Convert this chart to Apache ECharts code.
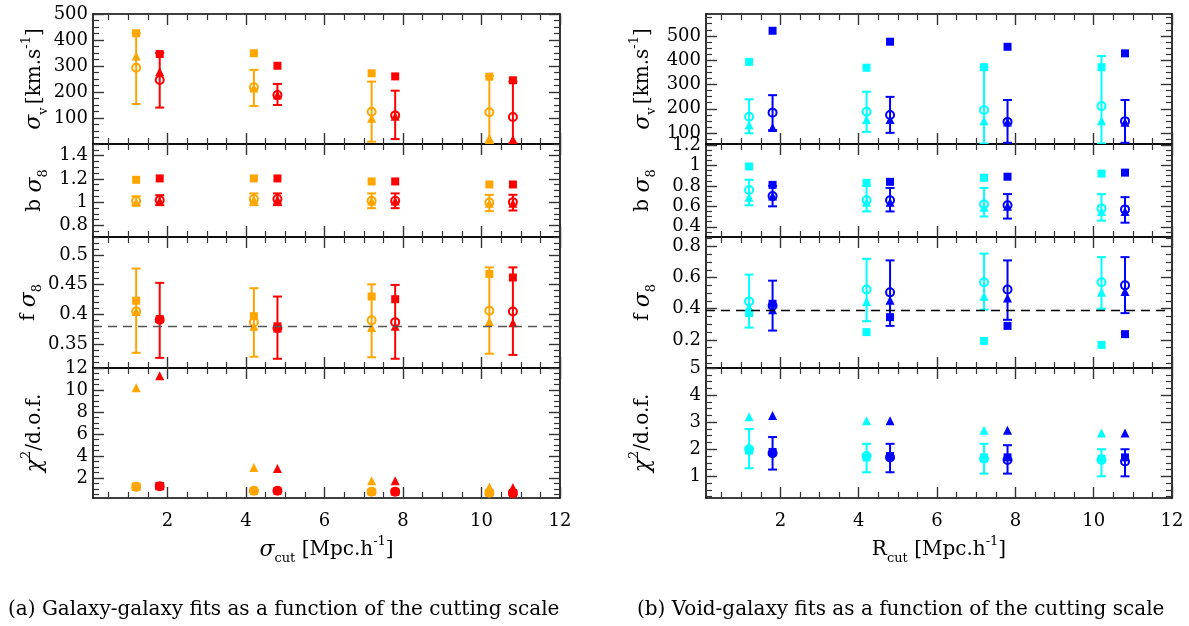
<!DOCTYPE html>
<html><head><meta charset="utf-8">
<script src="https://cdn.jsdelivr.net/npm/echarts@6/dist/echarts.min.js"></script>
<style>html,body{margin:0;padding:0;background:#fff}#c{width:1189px;height:626px}</style>
</head><body><div id="c"></div>
<script>
// ---------- x positions ----------
const xA = [1.2, 4.2, 7.2, 10.2];   // orange / cyan
const xB = [1.8, 4.8, 7.8, 10.8];   // red / blue
const X_TICKS = [2, 4, 6, 8, 10, 12];
const X_RANGE = [0.1, 12];

// ---------- tick labels / ranges ----------
const ggSvTicks = [100, 200, 300, 400, 500];
const ggBsTicks = [0.8, 1, 1.2, 1.4];
const ggFsTicks = [0.35, 0.4, 0.45, 0.5];
const ggChTicks = [2, 4, 6, 8, 10, 12];
const vgSvTicks = [100, 200, 300, 400, 500];
const vgBsTicks = [0.4, 0.6, 0.8, 1, 1.2];
const vgFsTicks = [0.2, 0.4, 0.6, 0.8];
const vgChTicks = [1, 2, 3, 4, 5];

const ggFsRef = 0.378;
const vgFsRef = 0.387;

// ---------- Galaxy-galaxy (orange = A, red = B) ----------
// sigma_v
const ggSvA_sq = [426, 349, 272, 259];
const ggSvA_tri = [338, 215, 99, 22];
const ggSvA_c = [293, 218, 124, 122];
const ggSvA_lo = [154, 146, 9, 2];
const ggSvA_hi = [426, 285, 240, 262];
const ggSvB_sq = [346, 301, 260, 245];
const ggSvB_tri = [278, 188, 107, 18];
const ggSvB_c = [246, 188, 110, 104];
const ggSvB_lo = [140, 150, 19, 2];
const ggSvB_hi = [350, 231, 205, 240];
// b sigma8
const ggBsA_sq = [1.192, 1.204, 1.178, 1.152];
const ggBsA_tri = [1.0, 1.02, 1.01, 0.99];
const ggBsA_c = [1.011, 1.026, 1.011, 0.997];
const ggBsA_lo = [0.974, 0.974, 0.948, 0.922];
const ggBsA_hi = [1.05, 1.075, 1.075, 1.063];
const ggBsB_sq = [1.204, 1.204, 1.178, 1.152];
const ggBsB_tri = [1.01, 1.02, 1.01, 0.99];
const ggBsB_c = [1.017, 1.026, 1.011, 1.0];
const ggBsB_lo = [0.974, 0.974, 0.948, 0.928];
const ggBsB_hi = [1.06, 1.075, 1.075, 1.063];
// f sigma8
const ggFsA_sq = [0.423, 0.397, 0.43, 0.468];
const ggFsA_tri = [0.405, 0.38, 0.378, 0.388];
const ggFsA_c = [0.405, 0.387, 0.39, 0.406];
const ggFsA_lo = [0.3355, 0.329, 0.328, 0.334];
const ggFsA_hi = [0.477, 0.444, 0.4505, 0.479];
const ggFsB_sq = [0.392, 0.38, 0.4255, 0.462];
const ggFsB_tri = [0.393, 0.377, 0.38, 0.386];
const ggFsB_c = [0.391, 0.377, 0.387, 0.405];
const ggFsB_lo = [0.327, 0.3255, 0.3255, 0.332];
const ggFsB_hi = [0.453, 0.43, 0.4495, 0.479];
// chi2 / dof
const ggChA_sq = [1.21, 0.85, 0.76, 0.67];
const ggChA_tri = [10.2, 2.97, 1.76, 1.2];
const ggChA_c = [1.21, 0.85, 0.76, 0.67];
const ggChA_lo = [0.95, 0.75, 0.6, 0.5];
const ggChA_hi = [1.5, 0.95, 0.9, 0.85];
const ggChB_sq = [1.27, 0.85, 0.76, 0.64];
const ggChB_tri = [11.3, 2.88, 1.76, 1.15];
const ggChB_c = [1.27, 0.85, 0.76, 0.64];
const ggChB_lo = [1.0, 0.75, 0.6, 0.5];
const ggChB_hi = [1.55, 0.95, 0.9, 0.85];

// ---------- Void-galaxy (cyan = A, blue = B) ----------
const vgSvA_sq = [393, 369, 371, 371];
const vgSvA_tri = [133, 156, 151, 151];
const vgSvA_c = [167, 188, 195, 211];
const vgSvA_lo = [99, 105, 57, 57];
const vgSvA_hi = [239, 270, 371, 417];
const vgSvB_sq = [521, 476, 455, 428];
const vgSvB_tri = [123, 156, 146, 145];
const vgSvB_c = [184, 174, 146, 149];
const vgSvB_lo = [112, 101, 60, 60];
const vgSvB_hi = [256, 249, 236, 236];

const vgBsA_sq = [0.99, 0.83, 0.88, 0.92];
const vgBsA_tri = [0.69, 0.64, 0.59, 0.55];
const vgBsA_c = [0.76, 0.66, 0.62, 0.58];
const vgBsA_lo = [0.61, 0.55, 0.50, 0.46];
const vgBsA_hi = [0.86, 0.80, 0.78, 0.72];
const vgBsB_sq = [0.81, 0.84, 0.89, 0.93];
const vgBsB_tri = [0.70, 0.64, 0.60, 0.55];
const vgBsB_c = [0.70, 0.66, 0.61, 0.57];
const vgBsB_lo = [0.60, 0.55, 0.48, 0.44];
const vgBsB_hi = [0.80, 0.78, 0.72, 0.69];

const vgFsA_sq = [0.372, 0.25, 0.194, 0.168];
const vgFsA_tri = [0.41, 0.447, 0.48, 0.505];
const vgFsA_c = [0.447, 0.523, 0.57, 0.57];
const vgFsA_lo = [0.279, 0.32, 0.394, 0.4];
const vgFsA_hi = [0.619, 0.72, 0.753, 0.731];
const vgFsB_sq = [0.432, 0.346, 0.29, 0.237];
const vgFsB_tri = [0.394, 0.454, 0.469, 0.51];
const vgFsB_c = [0.419, 0.505, 0.523, 0.55];
const vgFsB_lo = [0.26, 0.29, 0.329, 0.372];
const vgFsB_hi = [0.58, 0.71, 0.71, 0.731];

const vgChA_sq = [1.95, 1.7, 1.7, 1.65];
const vgChA_tri = [3.2, 3.05, 2.7, 2.6];
const vgChA_c = [2.0, 1.75, 1.65, 1.6];
const vgChA_lo = [1.3, 1.15, 1.1, 1.0];
const vgChA_hi = [2.75, 2.2, 2.2, 2.0];
const vgChB_sq = [1.9, 1.75, 1.7, 1.7];
const vgChB_tri = [3.25, 3.05, 2.7, 2.6];
const vgChB_c = [1.85, 1.7, 1.6, 1.55];
const vgChB_lo = [1.25, 1.15, 1.1, 1.0];
const vgChB_hi = [2.45, 2.2, 2.15, 2.0];

// ---------- colours ----------
const C_ORANGE = '#FFA500', C_RED = '#FF0000', C_CYAN = '#00FFFF', C_BLUE = '#0000FF';

// ---------- layout ----------
const FONT = 'DejaVu Serif';
const SIDE_LEFT = [93, 706];
const SIDE_W = [467, 466];
const ROW_TOP = [14, 144, 237, 368];
const ROW_H = [130, 93, 131, 130];

const rich = {
  n: {fontSize: 20, fontFamily: FONT, color: '#000', lineHeight: 30, verticalAlign: 'middle'},
  g: {fontSize: 22, fontFamily: FONT, fontStyle: 'italic', color: '#000', lineHeight: 30, verticalAlign: 'middle'},
  s: {fontSize: 13, fontFamily: FONT, color: '#000', lineHeight: 30, verticalAlign: 'bottom'},
  p: {fontSize: 13, fontFamily: FONT, color: '#000', lineHeight: 30, verticalAlign: 'top'}
};

const panels = [
  {side: 0, row: 0, yr: [0, 500], ticks: ggSvTicks, minor: 25, name: '{g|σ}{s|v} {n|[km.s}{p|-1}{n|]}',
   A: [ggSvA_sq, ggSvA_tri, ggSvA_c, ggSvA_lo, ggSvA_hi], B: [ggSvB_sq, ggSvB_tri, ggSvB_c, ggSvB_lo, ggSvB_hi]},
  {side: 0, row: 1, yr: [0.7, 1.5], ticks: ggBsTicks, minor: 0.05, name: '{n|b }{g|σ}{s|8}',
   A: [ggBsA_sq, ggBsA_tri, ggBsA_c, ggBsA_lo, ggBsA_hi], B: [ggBsB_sq, ggBsB_tri, ggBsB_c, ggBsB_lo, ggBsB_hi]},
  {side: 0, row: 2, yr: [0.31, 0.53], ticks: ggFsTicks, minor: 0.01, name: '{n|f }{g|σ}{s|8}', ref: ggFsRef, refColor: '#555',
   A: [ggFsA_sq, ggFsA_tri, ggFsA_c, ggFsA_lo, ggFsA_hi], B: [ggFsB_sq, ggFsB_tri, ggFsB_c, ggFsB_lo, ggFsB_hi]},
  {side: 0, row: 3, yr: [0.2, 12], ticks: ggChTicks, minor: 0.5, name: '{g|χ}{p|2}{n|/d.o.f.}', xName: '{g|σ}{s|cut}{n| [Mpc.h}{p|-1}{n|]}',
   A: [ggChA_sq, ggChA_tri, ggChA_c, ggChA_lo, ggChA_hi], B: [ggChB_sq, ggChB_tri, ggChB_c, ggChB_lo, ggChB_hi]},
  {side: 1, row: 0, yr: [55, 590], ticks: vgSvTicks, minor: 25, name: '{g|σ}{s|v} {n|[km.s}{p|-1}{n|]}',
   A: [vgSvA_sq, vgSvA_tri, vgSvA_c, vgSvA_lo, vgSvA_hi], B: [vgSvB_sq, vgSvB_tri, vgSvB_c, vgSvB_lo, vgSvB_hi]},
  {side: 1, row: 1, yr: [0.3, 1.21], ticks: vgBsTicks, minor: 0.05, name: '{n|b }{g|σ}{s|8}',
   A: [vgBsA_sq, vgBsA_tri, vgBsA_c, vgBsA_lo, vgBsA_hi], B: [vgBsB_sq, vgBsB_tri, vgBsB_c, vgBsB_lo, vgBsB_hi]},
  {side: 1, row: 2, yr: [0.02, 0.86], ticks: vgFsTicks, minor: 0.05, name: '{n|f }{g|σ}{s|8}', ref: vgFsRef, refColor: '#000',
   A: [vgFsA_sq, vgFsA_tri, vgFsA_c, vgFsA_lo, vgFsA_hi], B: [vgFsB_sq, vgFsB_tri, vgFsB_c, vgFsB_lo, vgFsB_hi]},
  {side: 1, row: 3, yr: [0.2, 5], ticks: vgChTicks, minor: 0.25, name: '{g|χ}{p|2}{n|/d.o.f.}', xName: '{n|R}{s|cut}{n| [Mpc.h}{p|-1}{n|]}',
   A: [vgChA_sq, vgChA_tri, vgChA_c, vgChA_lo, vgChA_hi], B: [vgChB_sq, vgChB_tri, vgChB_c, vgChB_lo, vgChB_hi]}
];

function minorVals(r, step, majors) {
  const out = [];
  const start = Math.ceil(r[0] / step - 1e-9);
  for (let k = start; k * step <= r[1] + 1e-9; k++) {
    const v = +(k * step).toFixed(6);
    if (!majors.some(m => Math.abs(m - v) < 1e-9)) out.push(v);
  }
  return out;
}

const grids = [], xAxes = [], yAxes = [], series = [];
const lineS = {color: '#000', width: 1.6};
const tMaj = v => ({show: true, inside: true, length: 11, customValues: v, lineStyle: {color: '#333', width: 1.4}});
const tMin = v => ({show: true, inside: true, length: 6, customValues: v, lineStyle: {color: '#333', width: 1.2}});
const labelStyle = {fontFamily: FONT, fontSize: 18, color: '#000'};

function zip(xs, ys) { return xs.map((x, i) => [x, ys[i]]); }
function zip3(xs, lo, hi) { return xs.map((x, i) => [x, lo[i], hi[i]]); }

function errRender(params, api) {
  const x = api.value(0), lo = api.value(1), hi = api.value(2);
  const a = api.coord([x, hi]), b = api.coord([x, lo]);
  const w = 4.5;
  const st = {stroke: api.visual('color'), lineWidth: 2};
  return {type: 'group', children: [
    {type: 'line', shape: {x1: a[0], y1: a[1], x2: b[0], y2: b[1]}, style: st},
    {type: 'line', shape: {x1: a[0] - w, y1: a[1], x2: a[0] + w, y2: a[1]}, style: st},
    {type: 'line', shape: {x1: b[0] - w, y1: b[1], x2: b[0] + w, y2: b[1]}, style: st}
  ]};
}

panels.forEach((p, gi) => {
  grids.push({left: SIDE_LEFT[p.side], top: ROW_TOP[p.row], width: SIDE_W[p.side], height: ROW_H[p.row]});
  const isBottom = p.row === 3;
  const xMinor = minorVals(X_RANGE, 0.5, X_TICKS);
  const yMinor = minorVals(p.yr, p.minor, p.ticks);
  const xi = xAxes.length, yi = yAxes.length;
  ['bottom', 'top'].forEach(pos => {
    xAxes.push({gridIndex: gi, type: 'value', min: X_RANGE[0], max: X_RANGE[1], position: pos, offset: 0,
      axisLine: {show: true, onZero: false, lineStyle: lineS}, axisTick: tMaj(X_TICKS),
      axisLabel: {show: pos === 'bottom' && isBottom, customValues: X_TICKS, margin: 14, ...labelStyle},
      splitLine: {show: false},
      name: (pos === 'bottom' && isBottom) ? p.xName : '', nameLocation: 'middle', nameGap: 37,
      nameTextStyle: {rich: rich}});
    xAxes.push({gridIndex: gi, type: 'value', min: X_RANGE[0], max: X_RANGE[1], position: pos, offset: 0,
      axisLine: {show: false, onZero: false}, axisTick: tMin(xMinor), axisLabel: {show: false}, splitLine: {show: false}});
  });
  ['left', 'right'].forEach(pos => {
    yAxes.push({gridIndex: gi, type: 'value', min: p.yr[0], max: p.yr[1], position: pos, offset: 0,
      axisLine: {show: true, onZero: false, lineStyle: lineS}, axisTick: tMaj(p.ticks),
      axisLabel: {show: pos === 'left', customValues: p.ticks, margin: 5, ...labelStyle},
      splitLine: {show: false},
      name: pos === 'left' ? p.name : '', nameLocation: 'middle', nameRotate: 90, nameGap: p.side === 0 ? 43 : 48,
      nameTextStyle: {rich: rich}});
    yAxes.push({gridIndex: gi, type: 'value', min: p.yr[0], max: p.yr[1], position: pos, offset: 0,
      axisLine: {show: false, onZero: false}, axisTick: tMin(yMinor), axisLabel: {show: false}, splitLine: {show: false}});
  });
  const colors = p.side === 0 ? [C_ORANGE, C_RED] : [C_CYAN, C_BLUE];
  [[xA, p.A, colors[0]], [xB, p.B, colors[1]]].forEach(([xs, d, col], k) => {
    const base = {xAxisIndex: xi, yAxisIndex: yi, z: 3};
    series.push({...base, type: 'custom', renderItem: errRender, itemStyle: {color: col, opacity: 1},
      encode: {x: 0, y: [1, 2]}, data: zip3(xs, d[3], d[4]), clip: true});
    series.push({...base, type: 'scatter', symbol: 'rect', symbolSize: 8, itemStyle: {color: col, opacity: 1}, data: zip(xs, d[0])});
    series.push({...base, type: 'scatter', symbol: 'triangle', symbolSize: 9, itemStyle: {color: col, opacity: 1}, data: zip(xs, d[1])});
    const circ = {...base, type: 'scatter', symbol: 'circle', symbolSize: 8,
      itemStyle: {color: 'rgba(255,255,255,0)', borderColor: col, borderWidth: 2, opacity: 1}, data: zip(xs, d[2])};
    if (p.ref !== undefined && k === 0) {
      circ.markLine = {silent: true, symbol: 'none', animation: false, label: {show: false},
        lineStyle: {type: [9, 6], color: p.refColor, width: 1.3, opacity: 1}, data: [{yAxis: p.ref}]};
    }
    series.push(circ);
  });
});

const chart = echarts.init(document.getElementById('c'), null, {renderer: 'canvas'});
chart.setOption({
  animation: false,
  backgroundColor: '#fff',
  grid: grids, xAxis: xAxes, yAxis: yAxes, series: series,
  graphic: [
    {type: 'text', left: 8, top: 600, style: {text: '(a) Galaxy-galaxy fits as a function of the cutting scale', fontFamily: FONT, fontSize: 20, fill: '#000'}},
    {type: 'text', left: 637, top: 600, style: {text: '(b) Void-galaxy fits as a function of the cutting scale', fontFamily: FONT, fontSize: 20, fill: '#000'}}
  ]
});
</script></body></html>
